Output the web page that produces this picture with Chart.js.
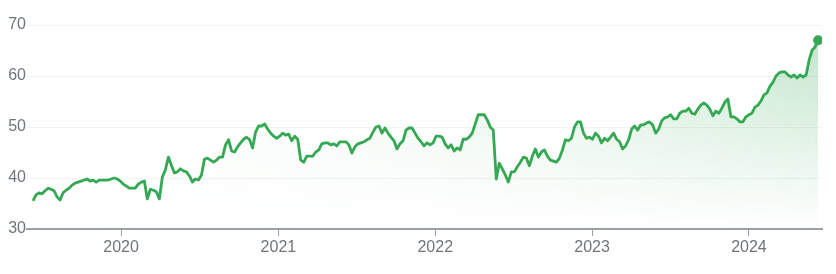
<!DOCTYPE html>
<html><head><meta charset="utf-8">
<script src="https://cdn.jsdelivr.net/npm/chart.js@4.4.1/dist/chart.umd.min.js"></script>
<style>html,body{margin:0;padding:0;background:#fff;}canvas{display:block;}</style>
</head><body>
<canvas id="c" width="836" height="274"></canvas>
<script>
// ---- data ----
const startDate = '2019-06-10';      // first weekly close
const weekStepDays = 7;
const axisRange = ['2019-05-27', '2024-06-19'];
const prices = [
  35.5, 36.7, 37.1, 36.9, 37.5, 38.0, 37.8, 37.5, 36.3, 35.7,
  37.1, 37.6, 38.0, 38.6, 39.0, 39.2, 39.4, 39.6, 39.8, 39.4,
  39.6, 39.2, 39.6, 39.6, 39.6, 39.6, 39.8, 40.0, 39.8, 39.4,
  38.8, 38.4, 38.0, 38.0, 38.0, 38.8, 39.2, 39.4, 35.9, 37.8,
  37.6, 37.3, 35.9, 40.2, 41.6, 44.1, 42.5, 41.0, 41.2, 41.8,
  41.4, 41.2, 40.4, 39.2, 39.8, 39.6, 40.6, 43.7, 43.9, 43.5,
  43.1, 43.5, 44.1, 44.1, 46.5, 47.5, 45.3, 45.1, 46.1, 46.9,
  47.6, 48.0, 47.5, 45.9, 49.0, 50.2, 50.2, 50.6, 49.6, 48.8,
  48.2, 47.8, 48.2, 48.8, 48.4, 48.6, 47.3, 48.2, 47.6, 43.5,
  43.1, 44.3, 44.3, 44.3, 45.1, 45.5, 46.7, 46.9, 46.9, 46.5,
  46.7, 46.3, 47.1, 47.1, 47.1, 46.5, 44.9, 46.1, 46.7, 46.9,
  47.1, 47.5, 47.8, 49.0, 50.0, 50.2, 48.8, 49.8, 48.8, 48.0,
  47.3, 45.7, 46.7, 47.3, 49.4, 49.8, 49.8, 48.8, 47.8, 47.1,
  46.3, 46.9, 46.5, 46.9, 48.2, 48.2, 48.0, 46.7, 45.9, 46.5,
  45.3, 45.9, 45.5, 47.6, 47.6, 48.0, 48.8, 50.6, 52.4, 52.4,
  52.4, 51.4, 50.0, 49.4, 39.8, 42.9, 41.8, 40.6, 39.2, 41.2,
  41.2, 42.2, 43.1, 44.1, 43.9, 42.4, 44.3, 45.7, 44.1, 45.1,
  45.5, 44.3, 43.5, 43.3, 43.1, 43.9, 45.5, 47.5, 47.3, 47.8,
  50.0, 51.0, 51.0, 48.8, 47.8, 48.0, 47.6, 48.8, 48.2, 46.9,
  47.8, 47.3, 48.0, 48.8, 47.6, 47.1, 45.7, 46.3, 47.5, 49.6,
  50.2, 49.4, 50.4, 50.4, 50.8, 51.0, 50.4, 48.8, 49.6, 51.2,
  51.8, 52.0, 52.4, 51.6, 51.6, 52.7, 53.1, 53.1, 53.7, 52.7,
  52.5, 53.5, 54.3, 54.7, 54.3, 53.5, 52.2, 53.1, 52.7, 53.7,
  54.9, 55.5, 52.0, 52.0, 51.6, 51.0, 51.0, 52.0, 52.4, 52.7,
  53.9, 54.3, 55.1, 56.3, 56.7, 58.0, 58.8, 60.0, 60.6, 60.8,
  60.8, 60.2, 59.8, 60.2, 59.6, 60.2, 59.8, 60.2, 63.1, 65.1,
  65.7, 67.0
];
const yearTicks = [2020, 2021, 2022, 2023, 2024];
const yTicks = [30, 40, 50, 60, 70];

// ---- helpers ----
const EPOCH = Date.UTC(2020, 0, 1);
const DAY = 86400000;
const dayOf = s => (Date.parse(s + 'T00:00:00Z') - EPOCH) / DAY;
const startDay = dayOf(startDate);
const points = prices.map((p, i) => ({ x: startDay + i * weekStepDays, y: p }));
const lastIdx = prices.length - 1;

const GREEN = '#34a853';
const TEXT = '#70757a';
const FONT = { family: 'Arial, "Liberation Sans", sans-serif', size: 16 };

let fillCache = null;
function areaFill(context) {
  const chart = context.chart;
  const a = chart.chartArea;
  if (!a) return 'rgba(52,168,83,0.08)';
  const key = [a.left, a.top, a.right, a.bottom].join(',');
  if (fillCache && fillCache.key === key) return fillCache.pattern;
  const off = document.createElement('canvas');
  off.width = chart.width; off.height = chart.height;
  const g = off.getContext('2d');
  const vg = g.createLinearGradient(0, a.top, 0, a.bottom);
  vg.addColorStop(0, 'rgba(52,168,83,0.32)');
  vg.addColorStop(1, 'rgba(52,168,83,0)');
  g.fillStyle = vg; g.fillRect(0, 0, off.width, off.height);
  g.globalCompositeOperation = 'destination-in';
  const hg = g.createLinearGradient(a.left, 0, a.right, 0);
  hg.addColorStop(0, 'rgba(0,0,0,0)');
  hg.addColorStop(0.5, 'rgba(0,0,0,0.3)');
  hg.addColorStop(1, 'rgba(0,0,0,1)');
  g.fillStyle = hg; g.fillRect(0, 0, off.width, off.height);
  const pattern = chart.ctx.createPattern(off, 'no-repeat');
  fillCache = { key, pattern };
  return pattern;
}

new Chart(document.getElementById('c'), {
  type: 'line',
  data: {
    datasets: [{
      data: points,
      borderColor: GREEN,
      borderWidth: 2.8,
      borderJoinStyle: 'round',
      tension: 0,
      fill: 'start',
      backgroundColor: areaFill,
      pointRadius: ctx => ctx.dataIndex === lastIdx ? 5 : 0,
      pointBackgroundColor: GREEN,
      pointBorderWidth: 0,
      pointHoverRadius: 0
    }]
  },
  options: {
    responsive: false,
    animation: false,
    events: [],
    layout: { padding: { top: 25, right: 14, left: 0, bottom: 0 } },
    plugins: { legend: { display: false }, tooltip: { enabled: false } },
    scales: {
      x: {
        type: 'linear',
        min: dayOf(axisRange[0]),
        max: dayOf(axisRange[1]),
        afterBuildTicks: s => { s.ticks = yearTicks.map(y => ({ value: (Date.UTC(y, 0, 1) - EPOCH) / DAY })); },
        afterFit: s => { s.height = 45; },
        ticks: {
          callback: (v, i) => String(yearTicks[i]),
          autoSkip: false, maxRotation: 0, padding: 2,
          color: TEXT, font: FONT
        },
        grid: { drawOnChartArea: false, drawTicks: true, tickLength: 7, color: '#9aa0a6', lineWidth: 1 },
        border: { display: true, color: '#9aa0a6', width: 2 }
      },
      y: {
        min: 30, max: 70,
        afterBuildTicks: s => { s.ticks = yTicks.map(v => ({ value: v })); },
        afterFit: s => { s.width = 27; },
        ticks: { color: TEXT, font: FONT, padding: 1, callback: v => String(v) },
        grid: { color: '#f1f3f4', drawTicks: false, lineWidth: 1 },
        border: { display: false }
      }
    }
  }
});
</script>
</body></html>
